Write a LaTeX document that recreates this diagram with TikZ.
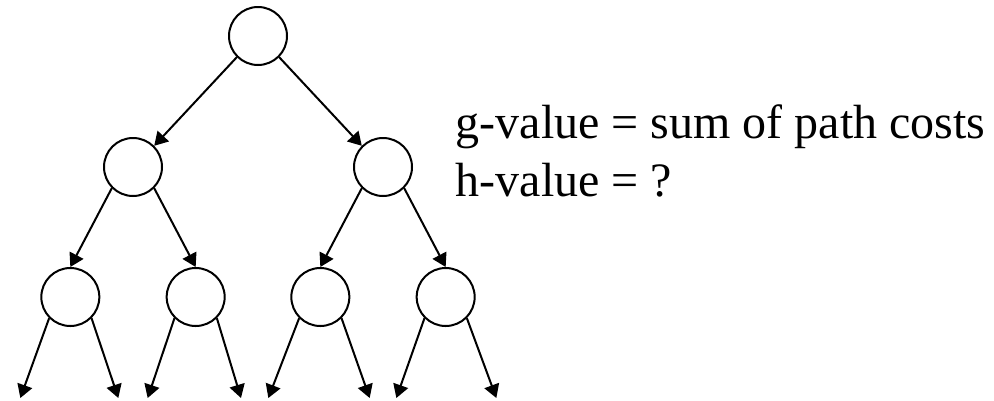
\documentclass[tikz,border=0pt]{standalone}
\usepackage{fontspec}
\setmainfont{Liberation Serif}
\usepackage{tikz}
\usetikzlibrary{arrows.meta,positioning}

\begin{document}
\begin{tikzpicture}[
  x=0.75pt, y=-0.75pt,
  on grid,
  vertex/.style={draw, circle, line width=1.5pt, minimum size=43.5pt, inner sep=0pt},
  arrow/.style={-{Triangle[length=10pt,width=11.5pt]}, line width=1.5pt},
  note/.style={font=\fontsize{36}{43.5}\selectfont, align=left, inner sep=0pt}
]
\useasboundingbox (0,0) rectangle (994,400);
\node[vertex] (root) at (258,36) {};
\node[vertex, below left=98.25pt and 93.75pt of root] (l) {};
\node[vertex, below right=98.25pt and 93.75pt of root] (r) {};
\node[vertex, below left=97.5pt and 47pt of l] (ll) {};
\node[vertex, below right=97.5pt and 47pt of l] (lr) {};
\node[vertex, below left=97.5pt and 47pt of r] (rl) {};
\node[vertex, below right=97.5pt and 47pt of r] (rr) {};

\coordinate[below left=75.75pt and 37.5pt of ll] (lla);
\coordinate[below right=75.75pt and 36pt of ll] (llb);
\coordinate[below left=75.75pt and 36pt of lr] (lra);
\coordinate[below right=75.75pt and 34pt of lr] (lrb);
\coordinate[below left=75.75pt and 39pt of rl] (rla);
\coordinate[below right=75.75pt and 37pt of rl] (rlb);
\coordinate[below left=75.75pt and 37pt of rr] (rra);
\coordinate[below right=75.75pt and 38pt of rr] (rrb);

\node[note, on grid=false, right=32pt of r, yshift=12pt] (values) {g-value = sum of path costs\\h-value = ?};

\draw[arrow] (root.south west) -- (l.north east);
\draw[arrow] (root.south east) -- (r.north west);
\draw[arrow] (l.south west) -- (ll.north);
\draw[arrow] (l.south east) -- (lr.north);
\draw[arrow] (r.south west) -- (rl.north);
\draw[arrow] (r.south east) -- (rr.north);
\draw[arrow] (ll.south west) -- (lla);
\draw[arrow] (ll.south east) -- (llb);
\draw[arrow] (lr.south west) -- (lra);
\draw[arrow] (lr.south east) -- (lrb);
\draw[arrow] (rl.south west) -- (rla);
\draw[arrow] (rl.south east) -- (rlb);
\draw[arrow] (rr.south west) -- (rra);
\draw[arrow] (rr.south east) -- (rrb);
\end{tikzpicture}
\end{document}
